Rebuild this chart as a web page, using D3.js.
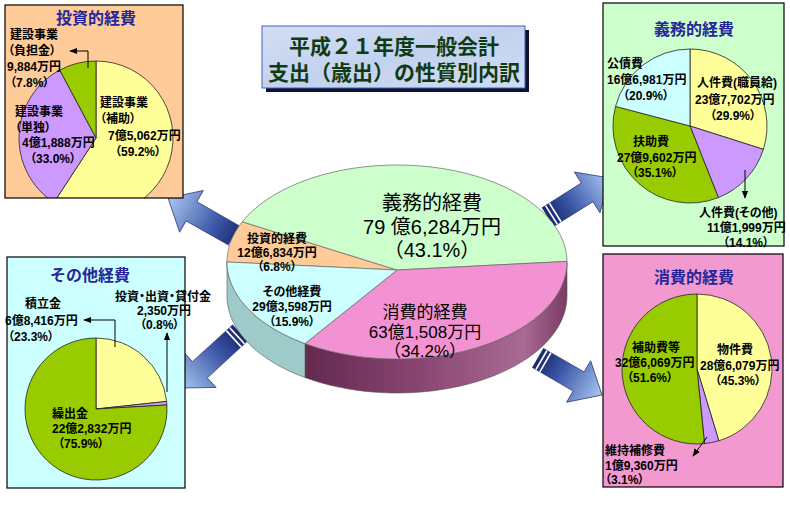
<!DOCTYPE html>
<html>
<head>
<meta charset="utf-8">
<script src="https://cdn.jsdelivr.net/npm/d3@7"></script>
<style>
body { margin: 0; background: #fff; }
text { font-family: "Liberation Sans", "Noto Sans CJK JP", sans-serif; }
.lbl { font-feature-settings: "palt"; font-weight: bold; font-size: 12px; fill: #000; }
</style>
</head>
<body>
<svg id="chart" width="790" height="510"></svg>
<script>
// main (center) pie
const mainNames = ["投資的経費", "義務的経費", "消費的経費", "その他経費"];
const mainAmounts = ["12億6,834万円", "79 億6,284万円", "63億1,508万円", "29億3,598万円"];
const mainShares = [6.8, 43.1, 34.2, 15.9];

// 投資的経費
const invNames = ["建設事業\n（補助）", "建設事業\n（単独）", "建設事業\n（負担金）"];
const invAmounts = ["7億5,062万円", "4億1,888万円", "9,884万円"];
const invShares = [59.2, 33.0, 7.8];

// 義務的経費
const dutyNames = ["人件費(職員給)", "人件費(その他)", "扶助費", "公債費"];
const dutyAmounts = ["23億7,702万円", "11億1,999万円", "27億9,602万円", "16億6,981万円"];
const dutyShares = [29.9, 14.1, 35.1, 20.9];

// 消費的経費
const consNames = ["物件費", "維持補修費", "補助費等"];
const consAmounts = ["28億6,079万円", "1億9,360万円", "32億6,069万円"];
const consShares = [45.3, 3.1, 51.6];

// その他経費
const otherNames = ["積立金", "投資・出資・貸付金", "繰出金"];
const otherAmounts = ["6億8,416万円", "2,350万円", "22億2,832万円"];
const otherShares = [23.3, 0.8, 75.9];

const titleLines = ["平成２１年度一般会計", "支出（歳出）の性質別内訳"];

const YEL = "#FFFF99", LAV = "#CC99FF", GRN = "#99CC00", LBL = "#CCFFFF";
const pct = v => "（" + v.toFixed(1) + "%）";

const svg = d3.select("#chart");
const defs = svg.append("defs");

defs.append("marker").attr("id", "ah").attr("viewBox", "0 0 10 10")
    .attr("refX", 9).attr("refY", 5)
    .attr("markerWidth", 8).attr("markerHeight", 8)
    .attr("markerUnits", "userSpaceOnUse").attr("orient", "auto")
    .append("path").attr("d", "M0,1 L10,5 L0,9 Z").attr("fill", "#000");

const ag = defs.append("linearGradient").attr("id", "arrowGrad");
ag.append("stop").attr("offset", 0).attr("stop-color", "#18266a");
ag.append("stop").attr("offset", 0.35).attr("stop-color", "#3b55a6");
ag.append("stop").attr("offset", 1).attr("stop-color", "#a8c8f2");

const tg = defs.append("linearGradient").attr("id", "titleGrad")
    .attr("x1", 0).attr("y1", 0).attr("x2", 1).attr("y2", 1);
tg.append("stop").attr("offset", 0).attr("stop-color", "#d4def4");
tg.append("stop").attr("offset", 0.5).attr("stop-color", "#c2d2ee");
tg.append("stop").attr("offset", 1).attr("stop-color", "#d0dcf4");

const pg = defs.append("linearGradient").attr("id", "pinkSide")
    .attr("gradientUnits", "userSpaceOnUse").attr("x1", 280).attr("x2", 567).attr("y1", 0).attr("y2", 0);
pg.append("stop").attr("offset", 0).attr("stop-color", "#5c2247");
pg.append("stop").attr("offset", 0.5).attr("stop-color", "#8a4773");
pg.append("stop").attr("offset", 0.85).attr("stop-color", "#a86a93");
pg.append("stop").attr("offset", 1).attr("stop-color", "#7a3c63");

// big blue arrows from the center pie to each panel
function bigArrow(tail, tip) {
    const dx = tip[0] - tail[0], dy = tip[1] - tail[1];
    const L = Math.hypot(dx, dy), ang = Math.atan2(dy, dx) * 180 / Math.PI;
    const sw = 11, hw = 24, hl = 27;
    const g = svg.append("g").attr("transform", `translate(${tail}) rotate(${ang})`);
    g.append("path")
        .attr("d", `M0,${-sw} L${L - hl},${-sw} L${L - hl},${-hw} L${L},0 L${L - hl},${hw} L${L - hl},${sw} L0,${sw} Z`)
        .attr("fill", "url(#arrowGrad)")
        .attr("stroke", "#26346e")
        .attr("stroke-width", 0.7);
    [4, 8.5].forEach(x => {
        g.append("line").attr("x1", x).attr("x2", x).attr("y1", -sw).attr("y2", sw)
            .attr("stroke", "#fff").attr("stroke-width", 1.6);
    });
}
bigArrow([242, 240], [168, 198]);
bigArrow([240, 333], [180, 388]);
bigArrow([548, 217], [610, 178]);
bigArrow([538, 358], [602, 395]);

// title box
svg.append("rect").attr("x", 266).attr("y", 30).attr("width", 263).attr("height", 62).attr("fill", "#101030");
svg.append("rect").attr("x", 262).attr("y", 26).attr("width", 263).attr("height", 62)
    .attr("fill", "url(#titleGrad)").attr("stroke", "#3f63b8").attr("stroke-width", 1);
const titleText = svg.append("text")
    .attr("text-anchor", "middle")
    .attr("font-size", 21).attr("font-weight", "bold")
    .attr("fill", "#113a12");
titleText.selectAll("tspan").data(titleLines).join("tspan")
    .attr("x", 394).attr("y", (d, i) => 54 + i * 26)
    .text(d => d);

// multi-line label as one text element
function label(parent, lines, xs, y, dy) {
    const t = parent.append("text");
    t.selectAll("tspan").data(lines).join("tspan")
        .attr("x", (d, k) => Array.isArray(xs) ? xs[k] : xs)
        .attr("y", (d, k) => y + k * dy)
        .text(d => d);
    return t;
}

// 3D center pie
const cx = 397, cy = 262, rx = 170, ry = 97, depth = 34, vx = 397, vy = 270;
const pt = a => [cx + rx * Math.sin(a), cy - ry * Math.cos(a)];
const sample = (a0, a1) => d3.range(0, 41).map(k => pt(a0 + (a1 - a0) * k / 40));
const line = d3.line();
const mainTop = ["#FFCC99", "#CCFFCC", "#F292D2", "#CCFFFF"];
const mainSide = ["#c99a66", "#8fae8f", "url(#pinkSide)", "#9fcaca"];
const mainArcs = d3.pie().sort(null).startAngle(1.5 * Math.PI).endAngle(3.5 * Math.PI)(mainShares);

const pieG = svg.append("g");
mainArcs.forEach((d, i) => {
    for (let k = 0; k < 3; k++) {
        const lo = Math.max(d.startAngle, Math.PI / 2 + 2 * Math.PI * k);
        const hi = Math.min(d.endAngle, 1.5 * Math.PI + 2 * Math.PI * k);
        if (hi <= lo) continue;
        const top = sample(lo, hi);
        const bot = top.map(p => [p[0], p[1] + depth]).reverse();
        pieG.append("path").attr("d", line(top.concat(bot)) + "Z")
            .attr("fill", mainSide[i]).attr("stroke", "#555").attr("stroke-width", 0.6);
    }
});
mainArcs.forEach((d, i) => {
    const pts = [[vx, vy]].concat(sample(d.startAngle, d.endAngle));
    pieG.append("path").attr("d", line(pts) + "Z")
        .attr("fill", mainTop[i]).attr("stroke", "#666").attr("stroke-width", 0.7);
});

// center pie labels: [x, first baseline, line step, size, bold]
const mainLabelPos = [[277, 243, 14, 12, true], [432, 210, 23.5, 20, false], [425, 318, 19.5, 17, false], [292, 296, 15, 12, true]];
mainNames.forEach((n, i) => {
    const [x, y, dy, fs, bold] = mainLabelPos[i];
    label(svg, [n, mainAmounts[i], pct(mainShares[i])], x, y, dy)
        .attr("class", bold ? "lbl" : null)
        .attr("text-anchor", "middle")
        .attr("font-size", fs)
        .attr("fill", "#000");
});

// side panels
const panels = [
    {
        title: "投資的経費", names: invNames, amounts: invAmounts, shares: invShares,
        colors: [YEL, LAV, GRN], bg: "#FFCC99", box: [5, 5, 178, 193], titleXY: [96, 24],
        c: [96, 138], r: 77,
        labels: [{ xs: [100, 100, 108, 115], y: 107, dy: 16.3 },
                 { xs: [15, 15, 22, 30], y: 116, dy: 15.7 },
                 { xs: [10, 8, 7, 10], y: 39, dy: 16 }],
        leaders: [[[88, 68], [88, 51], [70, 51]]]
    },
    {
        title: "義務的経費", names: dutyNames, amounts: dutyAmounts, shares: dutyShares,
        colors: [YEL, LAV, GRN, LBL], bg: "#CCFFCC", box: [603, 3, 181, 243], titleXY: [694, 35],
        c: [690, 126], r: 77,
        labels: [{ xs: [697, 695, 710], y: 87, dy: 16.5 },
                 { xs: [699, 707, 723], y: 217, dy: 14.8 },
                 { xs: [633, 617, 632], y: 146, dy: 15.5 },
                 { xs: [607, 607, 623], y: 68, dy: 16 }],
        leaders: [[[745, 170], [745, 198]]]
    },
    {
        title: "消費的経費", names: consNames, amounts: consAmounts, shares: consShares,
        colors: [YEL, LAV, GRN], bg: "#F29ACF", box: [603, 254, 180, 233], titleXY: [694, 283],
        c: [697, 369], r: 75,
        labels: [{ xs: [717, 700, 715], y: 354, dy: 15.5 },
                 { xs: [605, 605, 605], y: 455, dy: 14.5 },
                 { xs: [632, 615, 627], y: 352, dy: 15 }],
        leaders: [[[707, 437], [693, 456]]]
    },
    {
        title: "その他経費", names: otherNames, amounts: otherAmounts, shares: otherShares,
        colors: [YEL, LAV, GRN], bg: "#CCFFFF", box: [7, 257, 178, 231], titleXY: [90, 281],
        c: [96, 409], r: 71,
        labels: [{ xs: [25, 5, 8], y: 308, dy: 16.5 },
                 { xs: [115, 137, 140], y: 301, dy: 13.8 },
                 { xs: [52, 52, 58], y: 418, dy: 15 }],
        leaders: [[[115, 347], [115, 320], [84, 320]], [[167, 392], [167, 333]]]
    }
];

panels.forEach((p, i) => {
    const [bx, by, bw, bh] = p.box;
    const g = svg.append("g");
    defs.append("clipPath").attr("id", "clip" + i)
        .append("rect").attr("x", bx).attr("y", by).attr("width", bw).attr("height", bh);
    g.append("rect").attr("x", bx).attr("y", by).attr("width", bw).attr("height", bh).attr("fill", p.bg);

    const arcs = d3.pie().sort(null)(p.shares);
    const arc = d3.arc().innerRadius(0).outerRadius(p.r);
    g.append("g").attr("clip-path", `url(#clip${i})`)
        .append("g").attr("transform", `translate(${p.c})`)
        .selectAll("path").data(arcs).join("path")
        .attr("d", arc)
        .attr("fill", (d, j) => p.colors[j])
        .attr("stroke", "#222")
        .attr("stroke-width", 0.8);

    g.append("rect").attr("x", bx).attr("y", by).attr("width", bw).attr("height", bh)
        .attr("fill", "none").attr("stroke", "#000").attr("stroke-width", 1.2);

    g.append("text").attr("x", p.titleXY[0]).attr("y", p.titleXY[1])
        .attr("text-anchor", "middle").attr("font-size", 16).attr("font-weight", "bold")
        .attr("fill", "#26269a").text(p.title);

    p.names.forEach((n, j) => {
        const lines = n.split("\n").concat([p.amounts[j], pct(p.shares[j])]);
        const pos = p.labels[j];
        label(g, lines, pos.xs, pos.y, pos.dy).attr("class", "lbl");
    });

    p.leaders.forEach(l => {
        g.append("path").attr("d", line(l))
            .attr("fill", "none").attr("stroke", "#000").attr("stroke-width", 1)
            .attr("marker-end", "url(#ah)");
    });
});
</script>
</body>
</html>
